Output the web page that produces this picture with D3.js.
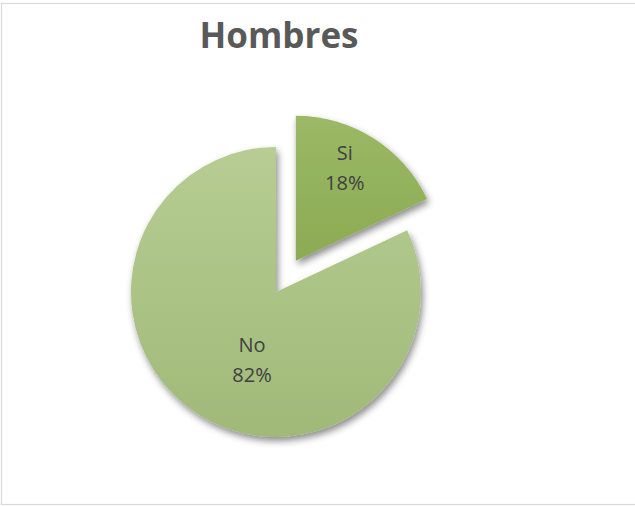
<!DOCTYPE html>
<html>
<head>
<meta charset="utf-8">
<script src="https://cdn.jsdelivr.net/npm/d3@7/dist/d3.min.js"></script>
<style>
  html, body { margin: 0; padding: 0; background: #fff; }
  svg { display: block; }
</style>
</head>
<body>
<svg id="chart" width="635" height="506"></svg>
<script>
// Survey answers for men
const categories = ["Si", "No"];
const shares = [18, 82];
const percentLabels = ["18%", "82%"];

const width = 635, height = 506;
const cx = 276, cy = 292, radius = 145;
const explode = 37; // the "Si" slice is pulled out of the pie

const svg = d3.select("#chart");

// frame
svg.append("rect")
  .attr("x", 1.5).attr("y", 3.5)
  .attr("width", width + 10).attr("height", height - 5)
  .attr("fill", "#fff")
  .attr("stroke", "#d9d9d9").attr("stroke-width", 1.2);

const defs = svg.append("defs");

const shadow = defs.append("filter").attr("id", "shadow")
  .attr("x", "-20%").attr("y", "-20%").attr("width", "140%").attr("height", "140%");
shadow.append("feDropShadow")
  .attr("dx", 2).attr("dy", 4).attr("stdDeviation", 3.5)
  .attr("flood-color", "#000").attr("flood-opacity", 0.45);

const gradStops = {
  Si: ["#9bb966", "#7b9c3f"],
  No: ["#b7cd93", "#a0b978"]
};
categories.forEach(c => {
  const g = defs.append("linearGradient").attr("id", "grad-" + c)
    .attr("gradientUnits", "userSpaceOnUse")
    .attr("x1", 0).attr("y1", -radius).attr("x2", 0).attr("y2", radius);
  g.append("stop").attr("offset", "0%").attr("stop-color", gradStops[c][0]);
  g.append("stop").attr("offset", "100%").attr("stop-color", gradStops[c][1]);
});

const data = categories.map((c, i) => ({ cat: c, value: shares[i], label: percentLabels[i] }));

const pie = d3.pie().value(d => d.value).sort(null);
const arc = d3.arc().innerRadius(0).outerRadius(radius);

const arcs = pie(data);

const g = svg.append("g").attr("transform", `translate(${cx},${cy})`);

const slices = g.selectAll("g.slice")
  .data(arcs)
  .join("g")
  .attr("class", "slice")
  .attr("transform", d => {
    if (d.data.cat !== "Si") return null;
    const mid = (d.startAngle + d.endAngle) / 2;
    return `translate(${Math.sin(mid) * explode},${-Math.cos(mid) * explode})`;
  });

slices.append("path")
  .attr("d", arc)
  .attr("fill", d => `url(#grad-${d.data.cat})`)
  .attr("filter", "url(#shadow)");

// label anchors inside each slice (relative to the slice's own centre)
const labelPos = { Si: [49, -101], No: [-24, 60] };

const labels = slices.append("text")
  .attr("text-anchor", "middle")
  .attr("font-family", "'Open Sans', sans-serif")
  .attr("font-size", 20)
  .attr("fill", "#404040")
  .attr("transform", d => `translate(${labelPos[d.data.cat][0]},${labelPos[d.data.cat][1]})`);
labels.append("tspan").attr("x", 0).attr("dy", 0).text(d => d.data.cat);
labels.append("tspan").attr("x", 0).attr("dy", 30).text(d => d.data.label);

svg.append("text")
  .attr("x", 279).attr("y", 48)
  .attr("text-anchor", "middle")
  .attr("font-family", "'Open Sans', sans-serif")
  .attr("font-weight", "bold")
  .attr("font-size", 35)
  .attr("fill", "#595959")
  .text("Hombres");
</script>
</body>
</html>
